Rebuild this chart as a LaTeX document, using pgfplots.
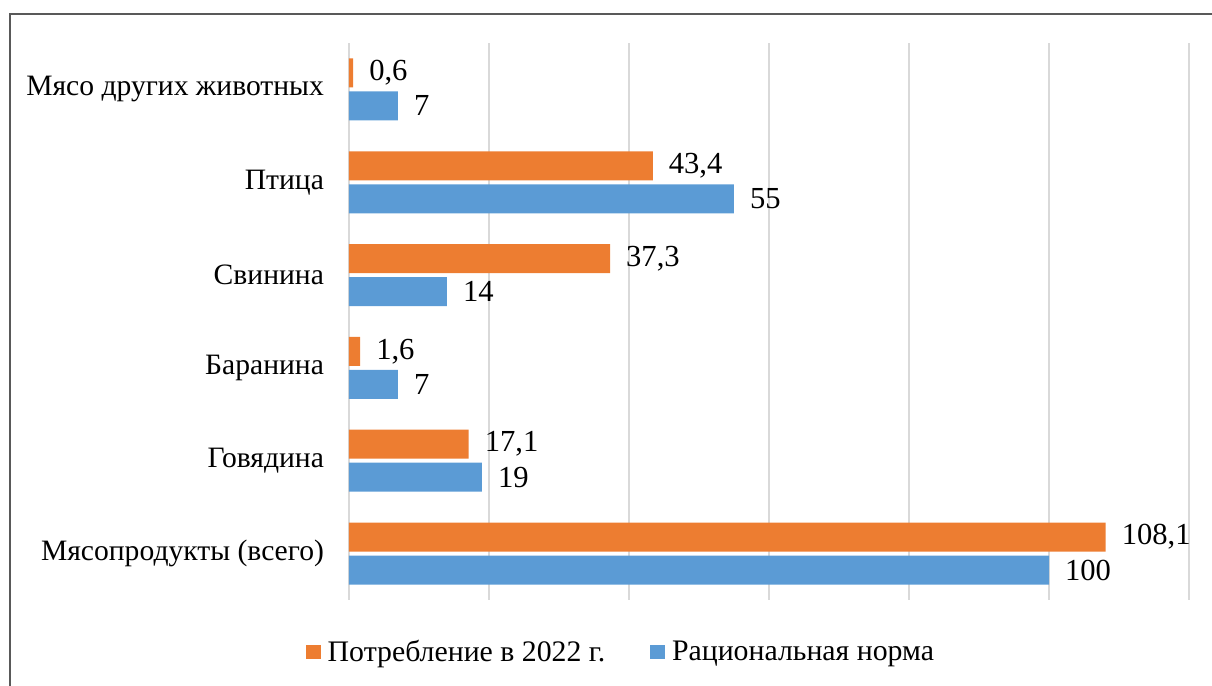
\documentclass[border=0pt]{standalone}
\usepackage{pgfplots}
\pgfplotsset{compat=1.18}
\usepackage{fontspec}
\setmainfont{Liberation Serif}
\definecolor{cOrange}{HTML}{ED7D31}
\definecolor{cBlue}{HTML}{5B9BD5}
\definecolor{cGrid}{HTML}{D9D9D9}
\definecolor{cFrame}{HTML}{595959}
\begin{document}
\begin{tikzpicture}
\useasboundingbox (0,0) rectangle (606pt,343pt);
\begin{scope}
\clip (0,0) rectangle (606pt,343pt);
\draw[line width=1pt, cFrame] (5pt,336pt) rectangle (640pt,-20pt);
\end{scope}
\begin{axis}[
  at={(174.5pt,43pt)}, anchor=south west,
  scale only axis, width=420pt, height=278.5pt,
  xmin=0, xmax=120, ymin=-0.5, ymax=5.5,
  xbar, bar width=14.5pt,
  clip=false,
  axis line style={draw=none},
  xtick={0,20,...,120}, xticklabels={},
  major tick length=0pt,
  xmajorgrids, grid style={cGrid, line width=0.9pt},
  ytick={0,1,2,3,4,5},
  yticklabels={Мясопродукты (всего),Говядина,Баранина,Свинина,Птица,Мясо других животных},
  yticklabel style={font=\fontsize{14.8}{17}\selectfont, xshift=-9pt},
  nodes near coords,
  every node near coord/.append style={font=\fontsize{15.3}{18}\selectfont, black, xshift=4.5pt},
  /pgf/number format/.cd, use comma, assume math mode=true, 1000 sep={},
  /pgfplots/.cd,
  legend style={at={(0.325,-0.0934)}, anchor=center, draw=none, fill=none,
    font=\fontsize{14.9}{17}\selectfont, legend columns=2,
    /tikz/every odd column/.append style={column sep=1.5pt},
    /tikz/every even column/.append style={column sep=20.5pt}},
  legend image code/.code={\fill[#1] (0pt,-3.7pt) rectangle (7.4pt,3.7pt);},
]
\addplot[fill=cOrange, draw=none, bar shift=8.25pt] coordinates {
  (108.1,0) (17.1,1) (1.6,2) (37.3,3) (43.4,4) (0.6,5)};
\addlegendentry{Потребление в 2022 г.}
\addplot[fill=cBlue, draw=none, bar shift=-8.25pt] coordinates {
  (100,0) (19,1) (7,2) (14,3) (55,4) (7,5)};
\addlegendentry{Рациональная норма}
\end{axis}
\end{tikzpicture}
\end{document}
